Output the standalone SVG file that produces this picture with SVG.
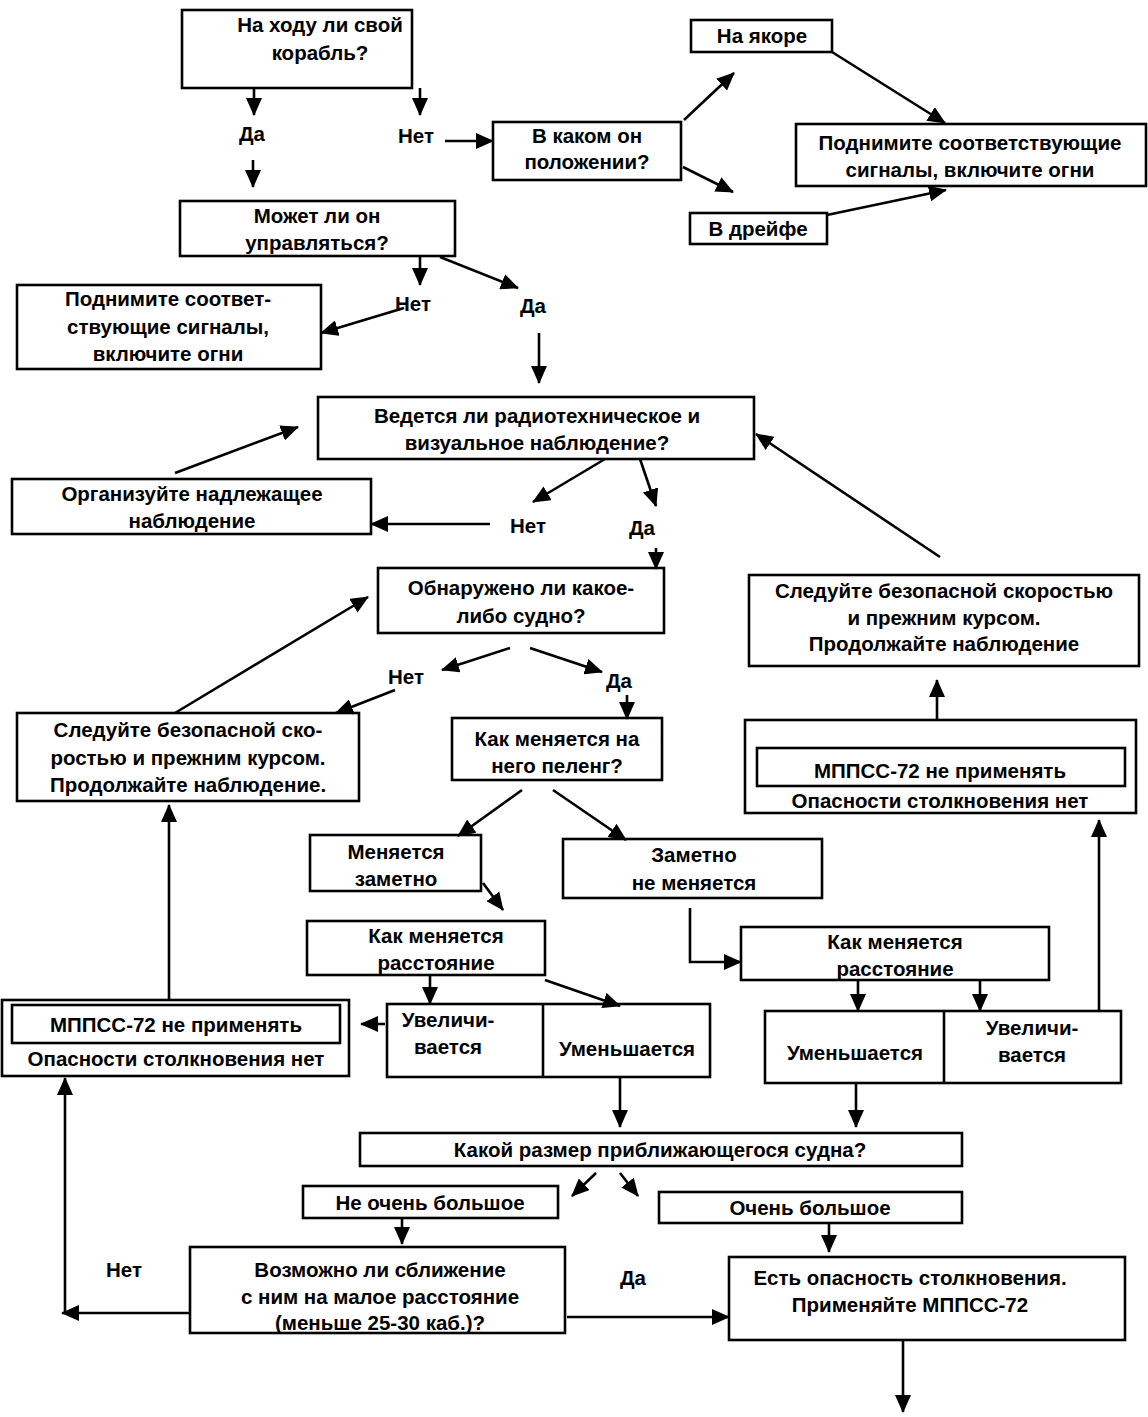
<svg xmlns="http://www.w3.org/2000/svg" width="1148" height="1417" viewBox="0 0 1148 1417">
<style>
.b{fill:#fff;stroke:#000;stroke-width:2.6}
.t{font-family:"Liberation Sans",Arial,sans-serif;font-size:20.5px;font-weight:bold;text-anchor:middle;fill:#000}
.c{fill:none;stroke:#000;stroke-width:2.6}
.a{marker-end:url(#ah)}
</style>
<defs>
<marker id="ah" markerUnits="userSpaceOnUse" markerWidth="18" markerHeight="16" refX="17" refY="8" orient="auto">
<path d="M0,0 L18,8 L0,16 z" fill="#000"/>
</marker>
</defs>
<rect width="1148" height="1417" fill="#fff"/>

<g id="n1"><rect class="b" x="182" y="10" width="230" height="78"/>
<text class="t" x="320" y="32">На ходу ли свой</text><text class="t" x="320" y="60">корабль?</text></g>
<g id="n2"><rect class="b" x="691" y="20" width="141" height="32"/>
<text class="t" x="762" y="43">На якоре</text></g>
<g id="n3"><rect class="b" x="493" y="122" width="188" height="58"/>
<text class="t" x="587" y="143">В каком он</text><text class="t" x="587" y="169">положении?</text></g>
<g id="n4"><rect class="b" x="796" y="124" width="350" height="62"/>
<text class="t" x="970" y="150">Поднимите соответствующие</text><text class="t" x="970" y="177">сигналы, включите огни</text></g>
<g id="n5"><rect class="b" x="690" y="213" width="137" height="31"/>
<text class="t" x="758" y="236">В дрейфе</text></g>
<g id="n6"><rect class="b" x="180" y="201" width="275" height="55"/>
<text class="t" x="317" y="223">Может ли он</text><text class="t" x="317" y="250">управляться?</text></g>
<g id="n7"><rect class="b" x="17" y="285" width="304" height="84"/>
<text class="t" x="168" y="306">Поднимите соответ-</text><text class="t" x="168" y="334">ствующие сигналы,</text><text class="t" x="168" y="361">включите огни</text></g>
<g id="n8"><rect class="b" x="318" y="397" width="436" height="62"/>
<text class="t" x="537" y="423">Ведется ли радиотехническое и</text><text class="t" x="537" y="450">визуальное наблюдение?</text></g>
<g id="n9"><rect class="b" x="12" y="479" width="359" height="55"/>
<text class="t" x="192" y="501">Организуйте надлежащее</text><text class="t" x="192" y="528">наблюдение</text></g>
<g id="n10"><rect class="b" x="378" y="568" width="286" height="65"/>
<text class="t" x="521" y="595">Обнаружено ли какое-</text><text class="t" x="521" y="623">либо судно?</text></g>
<g id="n11"><rect class="b" x="749" y="575" width="390" height="91"/>
<text class="t" x="944" y="598">Следуйте безопасной скоростью</text><text class="t" x="944" y="625">и прежним курсом.</text><text class="t" x="944" y="651">Продолжайте наблюдение</text></g>
<g id="n12"><rect class="b" x="17" y="713" width="342" height="88"/>
<text class="t" x="188" y="737">Следуйте безопасной ско-</text><text class="t" x="188" y="765">ростью и прежним курсом.</text><text class="t" x="188" y="792">Продолжайте наблюдение.</text></g>
<g id="n13"><rect class="b" x="452" y="718" width="210" height="62"/>
<text class="t" x="557" y="746">Как меняется на</text><text class="t" x="557" y="773">него пеленг?</text></g>
<g id="n14"><rect class="b" x="745" y="720" width="391" height="93"/><rect class="b" x="757" y="748" width="368" height="38"/>
<text class="t" x="940" y="778">МППСС-72 не применять</text><text class="t" x="940" y="808">Опасности столкновения нет</text></g>
<g id="n15"><rect class="b" x="310" y="835" width="171" height="56"/>
<text class="t" x="396" y="859">Меняется</text><text class="t" x="396" y="886">заметно</text></g>
<g id="n16"><rect class="b" x="563" y="839" width="259" height="59"/>
<text class="t" x="694" y="862">Заметно</text><text class="t" x="694" y="890">не меняется</text></g>
<g id="n17"><rect class="b" x="307" y="921" width="238" height="54"/>
<text class="t" x="436" y="943">Как меняется</text><text class="t" x="436" y="970">расстояние</text></g>
<g id="n18"><rect class="b" x="741" y="927" width="308" height="53"/>
<text class="t" x="895" y="949">Как меняется</text><text class="t" x="895" y="976">расстояние</text></g>
<g id="n19"><rect class="b" x="2" y="1000" width="347" height="76"/><rect class="b" x="12" y="1005" width="328" height="38"/>
<text class="t" x="176" y="1032">МППСС-72 не применять</text><text class="t" x="176" y="1066">Опасности столкновения нет</text></g>
<g id="n20"><rect class="b" x="387" y="1004" width="323" height="73"/><line class="c" x1="543" y1="1004" x2="543" y2="1077"/>
<text class="t" x="448" y="1027">Увеличи-</text><text class="t" x="448" y="1054">вается</text><text class="t" x="627" y="1056">Уменьшается</text></g>
<g id="n21"><rect class="b" x="765" y="1011" width="356" height="72"/><line class="c" x1="944" y1="1011" x2="944" y2="1083"/>
<text class="t" x="855" y="1060">Уменьшается</text><text class="t" x="1032" y="1035">Увеличи-</text><text class="t" x="1032" y="1062">вается</text></g>
<g id="n22"><rect class="b" x="360" y="1133" width="602" height="33"/>
<text class="t" x="660" y="1157">Какой размер приближающегося судна?</text></g>
<g id="n23"><rect class="b" x="303" y="1186" width="255" height="32"/>
<text class="t" x="430" y="1210">Не очень большое</text></g>
<g id="n24"><rect class="b" x="659" y="1192" width="303" height="31"/>
<text class="t" x="810" y="1215">Очень большое</text></g>
<g id="n25"><rect class="b" x="190" y="1247" width="375" height="86"/>
<text class="t" x="380" y="1277">Возможно ли сближение</text><text class="t" x="380" y="1304">с ним на малое расстояние</text><text class="t" x="380" y="1330">(меньше 25-30 каб.)?</text></g>
<g id="n26"><rect class="b" x="729" y="1257" width="396" height="83"/>
<text class="t" x="910" y="1285">Есть опасность столкновения.</text><text class="t" x="910" y="1312">Применяйте МППСС-72</text></g>

<g id="connectors">
<line class="c a" x1="254" y1="88" x2="254" y2="115"/>
<line class="c a" x1="420" y1="88" x2="420" y2="115"/>
<line class="c a" x1="253" y1="160" x2="253" y2="187"/>
<line class="c a" x1="445" y1="141" x2="493" y2="141"/>
<line class="c a" x1="684" y1="120" x2="734" y2="73"/>
<line class="c a" x1="683" y1="167" x2="733" y2="192"/>
<line class="c a" x1="832" y1="52" x2="945" y2="123"/>
<line class="c a" x1="827" y1="215" x2="946" y2="190"/>
<line class="c a" x1="420" y1="256" x2="420" y2="285"/>
<line class="c a" x1="440" y1="257" x2="518" y2="288"/>
<line class="c a" x1="404" y1="308" x2="321" y2="333"/>
<line class="c a" x1="539" y1="333" x2="539" y2="383"/>
<line class="c a" x1="605" y1="459" x2="533" y2="502"/>
<line class="c a" x1="640" y1="459" x2="656" y2="506"/>
<line class="c a" x1="490" y1="524" x2="371" y2="524"/>
<line class="c a" x1="175" y1="473" x2="298" y2="427"/>
<line class="c a" x1="656" y1="548" x2="656" y2="569"/>
<line class="c a" x1="940" y1="557" x2="756" y2="434"/>
<line class="c a" x1="510" y1="648" x2="442" y2="670"/>
<line class="c a" x1="530" y1="648" x2="602" y2="672"/>
<line class="c a" x1="395" y1="690" x2="336" y2="713"/>
<line class="c a" x1="175" y1="713" x2="368" y2="597"/>
<line class="c a" x1="627" y1="695" x2="627" y2="719"/>
<line class="c a" x1="522" y1="790" x2="458" y2="836"/>
<line class="c a" x1="553" y1="790" x2="626" y2="840"/>
<line class="c a" x1="483" y1="883" x2="503" y2="910"/>
<polyline class="c a" points="690,908 690,962 741,962"/>
<line class="c a" x1="430" y1="975" x2="430" y2="1004"/>
<line class="c a" x1="545" y1="980" x2="620" y2="1006"/>
<line class="c a" x1="385" y1="1024" x2="361" y2="1024"/>
<line class="c a" x1="169" y1="1000" x2="169" y2="805"/>
<line class="c a" x1="1099" y1="1011" x2="1099" y2="820"/>
<line class="c a" x1="937" y1="720" x2="937" y2="680"/>
<line class="c a" x1="858" y1="980" x2="858" y2="1011"/>
<line class="c a" x1="980" y1="980" x2="980" y2="1011"/>
<line class="c a" x1="620" y1="1077" x2="620" y2="1127"/>
<line class="c a" x1="856" y1="1083" x2="856" y2="1127"/>
<line class="c a" x1="596" y1="1173" x2="572" y2="1196"/>
<line class="c a" x1="620" y1="1173" x2="638" y2="1196"/>
<line class="c a" x1="402" y1="1218" x2="402" y2="1244"/>
<line class="c a" x1="829" y1="1223" x2="829" y2="1252"/>
<line class="c a" x1="190" y1="1313" x2="62" y2="1313"/>
<line class="c a" x1="65" y1="1313" x2="65" y2="1078"/>
<line class="c a" x1="567" y1="1317" x2="729" y2="1317"/>
<line class="c a" x1="903" y1="1340" x2="903" y2="1412"/>
</g>

<g id="labels">
<text class="t" x="252" y="141">Да</text>
<text class="t" x="416" y="143">Нет</text>
<text class="t" x="413" y="311">Нет</text>
<text class="t" x="533" y="313">Да</text>
<text class="t" x="528" y="533">Нет</text>
<text class="t" x="642" y="535">Да</text>
<text class="t" x="406" y="684">Нет</text>
<text class="t" x="619" y="688">Да</text>
<text class="t" x="124" y="1277">Нет</text>
<text class="t" x="633" y="1285">Да</text>
</g>
</svg>
